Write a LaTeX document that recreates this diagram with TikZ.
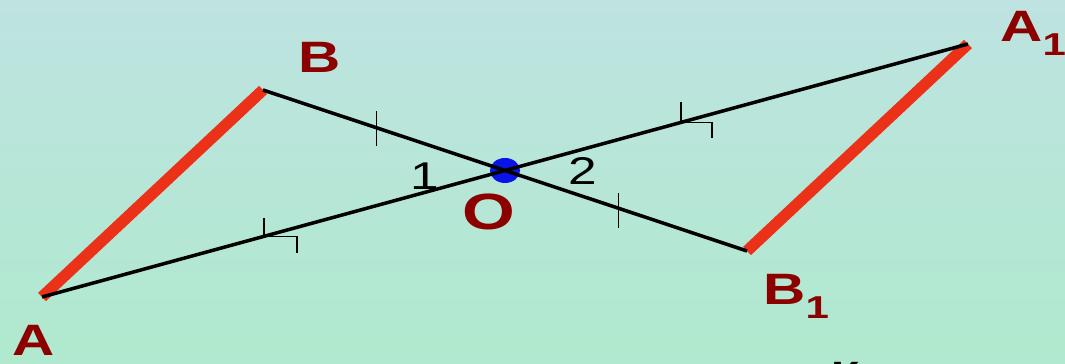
\documentclass[tikz,border=0pt]{standalone}
\usepackage{fontspec}
\setmainfont{Liberation Sans}
\newfontfamily\lblfont[FakeStretch=1.33]{Liberation Sans}
\usepackage{xcolor}
\usepackage{tikz}
\usetikzlibrary{positioning,calc}
\definecolor{bgtop}{RGB}{190,227,225}
\definecolor{bgbot}{RGB}{176,233,206}
\definecolor{lblred}{RGB}{140,0,0}
\definecolor{segred}{RGB}{235,50,25}
\definecolor{dotblue}{RGB}{10,20,230}
\newcommand{\subone}{\raisebox{-0.28cm}{\fontsize{18}{18}\selectfont 1}}
\tikzset{
  letter/.style={
    inner sep=0pt,
    anchor=base west,
    text=lblred,
    font=\lblfont\bfseries\fontsize{25}{30}\selectfont
  },
  numlabel/.style={
    inner sep=0pt,
    font=\lblfont\fontsize{22}{26}\selectfont
  },
  redseg/.style={
    draw=segred,
    line width=6.5pt
  },
  ray/.style={
    draw=black,
    line width=2pt
  },
  hatch/.style={
    draw=black,
    line width=0.85pt
  }
}
\begin{document}
\begin{tikzpicture}

\shade[top color=bgtop, bottom color=bgbot] (0,0) rectangle (21.3,7.28);
\useasboundingbox (0,0) rectangle (21.3,7.28);

\coordinate (A) at (0.84,1.34);
\coordinate (B) at (5.26,5.48);
\coordinate (O) at (10.1,3.87);
\coordinate (A1) at (19.36,6.40);
\coordinate (B1) at (14.94,2.26);

\fill[dotblue] (O) ellipse [x radius=0.3cm, y radius=0.25cm];

\draw[redseg] (A) -- (B);
\draw[redseg] (B1) -- (A1);
\draw[ray] (A) -- (A1);
\draw[ray] (B) -- (B1);

\coordinate (tb) at ($(B)!0.47!(O)$);
\coordinate (tb1) at ($(O)!0.47!(B1)$);
\coordinate (ta) at ($(A)!0.48!(O)$);
\coordinate (ta1) at ($(O)!0.38!(A1)$);

\draw[hatch] ($(tb)+(0,0.33)$) -- ($(tb)+(0,-0.37)$);
\draw[hatch] ($(tb1)+(0,0.3)$) -- ($(tb1)+(0,-0.4)$);
\draw[hatch] ($(ta)+(0,0.36)$) -- (ta) -- ++(0.66,0) -- ++(0,-0.34);
\draw[hatch] ($(ta1)+(0,0.4)$) -- (ta1) -- ++(0.62,0) -- ++(0,-0.32);

\node[letter] (lA) at (0.24,0.16) {A};
\node[letter] (lB) at (5.96,5.82) {B};
\node[letter, font=\lblfont\bfseries\fontsize{29}{34}\selectfont] (lO) at (9.25,2.68) {O};
\node[letter] (lA1) at (20.0,6.44) {A\subone};
\node[letter] (lB1) at (15.26,1.18) {B\subone};

\node[numlabel] (n1) at (8.5,3.76) {1};
\node[numlabel] (n2) at (11.66,3.86) {2};

\node[letter, text=black, font=\lblfont\bfseries\fontsize{20}{24}\selectfont] (tail) at (16.62,-0.45) {Каким};

\end{tikzpicture}
\end{document}
